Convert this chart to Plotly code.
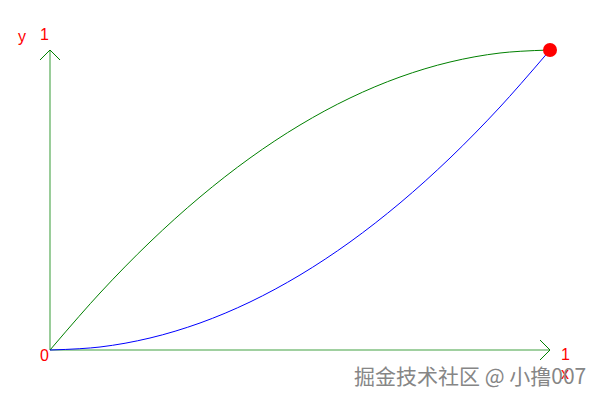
import plotly.graph_objects as go

# sample points
xs = [0, 0.1, 0.2, 0.3, 0.4, 0.5, 0.6, 0.7, 0.8, 0.9, 1.0]
ease_out = [0, 0.19, 0.36, 0.51, 0.64, 0.75, 0.84, 0.91, 0.96, 0.99, 1.0]
ease_in = [0, 0.01, 0.04, 0.09, 0.16, 0.25, 0.36, 0.49, 0.64, 0.81, 1.0]
end_point = (1.0, 1.0)

fig = go.Figure()

# axes with open arrow heads
axis_col = "#80c080"
head_col = "#008000"
fig.add_trace(go.Scatter(x=[0, 1], y=[0, 0], mode="lines",
                         line=dict(color=axis_col, width=1.6), hoverinfo="skip"))
fig.add_trace(go.Scatter(x=[0, 0], y=[0, 1], mode="lines",
                         line=dict(color=axis_col, width=1.6), hoverinfo="skip"))
fig.add_trace(go.Scatter(x=[0.98, 1, 0.98], y=[0.0333, 0, -0.0333], mode="lines",
                         line=dict(color=head_col, width=1), hoverinfo="skip"))
fig.add_trace(go.Scatter(x=[-0.02, 0, 0.02], y=[0.9667, 1, 0.9667], mode="lines",
                         line=dict(color=head_col, width=1), hoverinfo="skip"))

fig.add_trace(go.Scatter(x=xs, y=ease_out, mode="lines", line_shape="spline",
                         line=dict(color="#008000", width=1)))
fig.add_trace(go.Scatter(x=xs, y=ease_in, mode="lines", line_shape="spline",
                         line=dict(color="#0000ff", width=1)))
fig.add_trace(go.Scatter(x=[end_point[0]], y=[end_point[1]], mode="markers",
                         marker=dict(color="#ff0000", size=14)))

lab = dict(font=dict(family="Liberation Sans, Arial", size=16, color="#ff0000"),
           showarrow=False, xref="x", yref="y")
fig.add_annotation(x=0, y=0, text="0", xshift=-6, yshift=-5, **lab)
fig.add_annotation(x=1, y=0, text="1", xshift=15, yshift=-4, **lab)
fig.add_annotation(x=1, y=0, text="x", xshift=15, yshift=-23, **lab)
fig.add_annotation(x=0, y=1, text="1", xshift=-6, yshift=16, **lab)
fig.add_annotation(x=0, y=1, text="y", xshift=-28, yshift=14, **lab)

# watermark
fig.add_annotation(text="掘金技术社区 @ 小撸007", xref="paper", yref="paper",
                   x=0.967, y=0.0825, xanchor="right", yanchor="middle", showarrow=False,
                   font=dict(family="Noto Sans CJK SC", size=21, color="#868686"))

# the page puts the plot 8px in from the corner, so the ranges are offset to match
fig.update_layout(
    width=600, height=400,
    margin=dict(l=0, r=0, t=0, b=0, pad=0, autoexpand=False),
    paper_bgcolor="white", plot_bgcolor="white",
    showlegend=False,
    xaxis=dict(range=[-0.084, 1.116], visible=False),
    yaxis=dict(range=[-58 / 300, 342 / 300], visible=False),
)
for tr in fig.data:
    tr.cliponaxis = False

fig.write_html("out.html")
